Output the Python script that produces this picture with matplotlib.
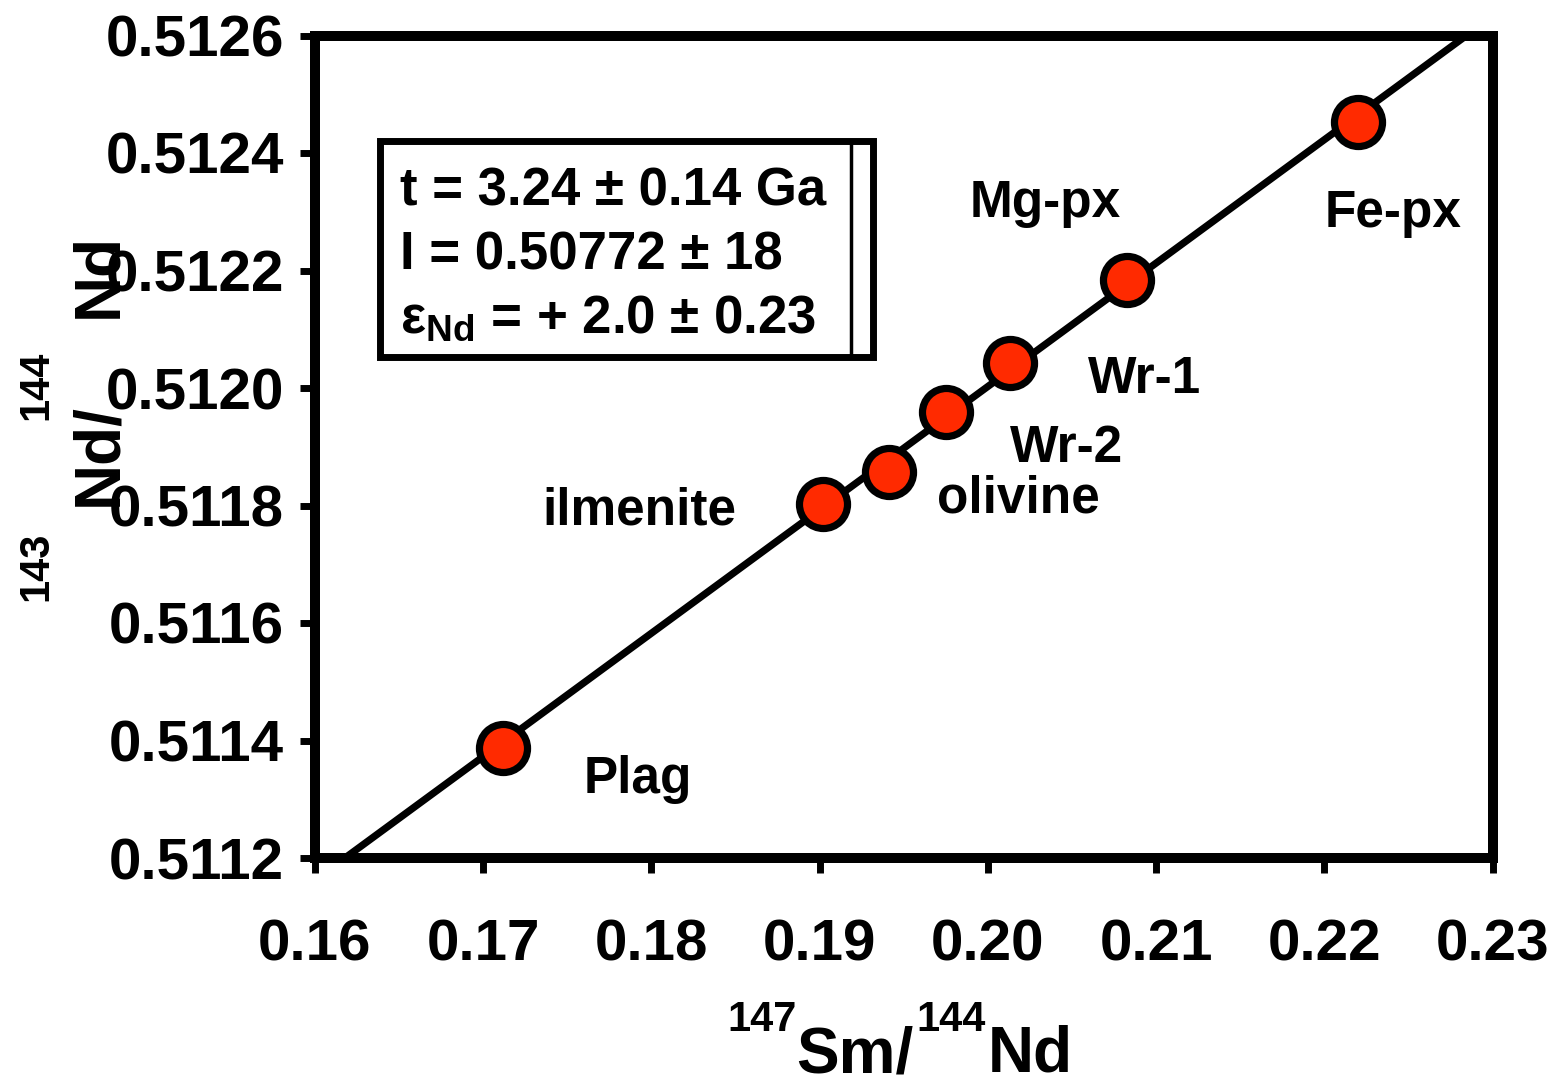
import matplotlib
matplotlib.use("Agg")
import matplotlib.pyplot as plt
from matplotlib.patches import Rectangle
from matplotlib.lines import Line2D

plt.rcParams['font.family'] = ['Liberation Sans', 'DejaVu Sans']
plt.rcParams['font.weight'] = 'bold'
plt.rcParams['mathtext.fontset'] = 'custom'
plt.rcParams['mathtext.rm'] = 'Liberation Sans:bold'
plt.rcParams['mathtext.bf'] = 'Liberation Sans:bold'
plt.rcParams['mathtext.it'] = 'Liberation Sans:bold'

samples = ["Plag", "ilmenite", "olivine", "Wr-2", "Wr-1", "Mg-px", "Fe-px"]
sm_nd = [0.1712, 0.1902, 0.1941, 0.1975, 0.2013, 0.2083, 0.2220]
nd_nd = [0.511387, 0.511802, 0.511857, 0.511959, 0.512042, 0.512183, 0.512452]

isochron_x = [0.16178, 0.22845]
isochron_y = [0.5112, 0.5126]

x_ticks = [0.16, 0.17, 0.18, 0.19, 0.20, 0.21, 0.22, 0.23]
y_ticks = [0.5112, 0.5114, 0.5116, 0.5118, 0.5120, 0.5122, 0.5124, 0.5126]

stats_lines = ["t = 3.24 \u00b1 0.14 Ga",
               "I = 0.50772 \u00b1 18",
               "\u03b5$_{\\mathbf{Nd}}$ = + 2.0 \u00b1 0.23"]

# label offsets from each point (pixels, left/baseline of text)
label_offsets = {"Plag": (80, -45), "ilmenite": (-281, -20), "olivine": (48, -40),
                 "Wr-2": (64, -50), "Wr-1": (78, -30), "Mg-px": (-158, 63),
                 "Fe-px": (-33, -105)}

W, H = 1558, 1083
fig = plt.figure(figsize=(W / 100, H / 100), dpi=100)
ax = fig.add_axes([315 / W, 1 - 858 / H, (1492.5 - 315) / W, (858 - 35.5) / H])

ax.plot(isochron_x, isochron_y, color='black', lw=5.2, zorder=2, solid_capstyle='butt')
ax.plot(sm_nd, nd_nd, 'o', ms=34.6, mfc='#FF2A00', mec='black', mew=5.2, zorder=3)

for name, x, y in zip(samples, sm_nd, nd_nd):
    dx, dy = label_offsets[name]
    ax.annotate(name, (x, y), xytext=(dx, dy), textcoords='offset pixels',
                fontsize=37, fontweight='bold', ha='left', va='baseline')

ax.set_xlim(0.16, 0.23)
ax.set_ylim(0.5112, 0.5126)
ax.set_xticks(x_ticks)
ax.set_xticklabels([f"{v:.2f}" for v in x_ticks])
ax.set_yticks(y_ticks)
ax.set_yticklabels([f"{v:.4f}" for v in y_ticks])
for sp in ax.spines.values():
    sp.set_linewidth(7.2)
ax.tick_params(axis='both', direction='out', length=10.8, width=5, labelsize=42)
ax.tick_params(axis='x', pad=33)
ax.tick_params(axis='y', pad=11.5)
for lab in ax.get_xticklabels() + ax.get_yticklabels():
    lab.set_fontweight('bold')

# stats box
ax.add_patch(Rectangle((0.0548, 0.6094), 0.4193, 0.2624, transform=ax.transAxes,
                       fill=False, lw=5, ec='black', zorder=4, clip_on=False))
ax.add_line(Line2D([0.455, 0.455], [0.6094, 0.8718], transform=ax.transAxes,
                   color='black', lw=2.5, zorder=4))
for i, s in enumerate(stats_lines):
    ax.text(0.0722, 0.7939 - i * 0.0778, s, transform=ax.transAxes, fontsize=38,
            fontweight='bold', ha='left', va='baseline', zorder=5)


def piece(px, py, s, size, rot=0):
    fig.text(px / W, 1 - py / H, s, fontsize=size, fontweight='bold',
             ha='left', va='baseline', rotation=rot, rotation_mode='anchor')


# x label: 147Sm/144Nd
piece(727, 1031, "147", 30)
piece(796, 1072, "Sm/", 46)
piece(916, 1031, "144", 30)
piece(988, 1072, "Nd", 46)

# y label: 143Nd/144Nd (rotated)
piece(47, 601, "143", 30, 90)
piece(116, 506, "Nd/", 46, 90)
piece(47, 420, "144", 30, 90)
piece(116, 318, "Nd", 46, 90)

fig.savefig("out.png", dpi=100)
